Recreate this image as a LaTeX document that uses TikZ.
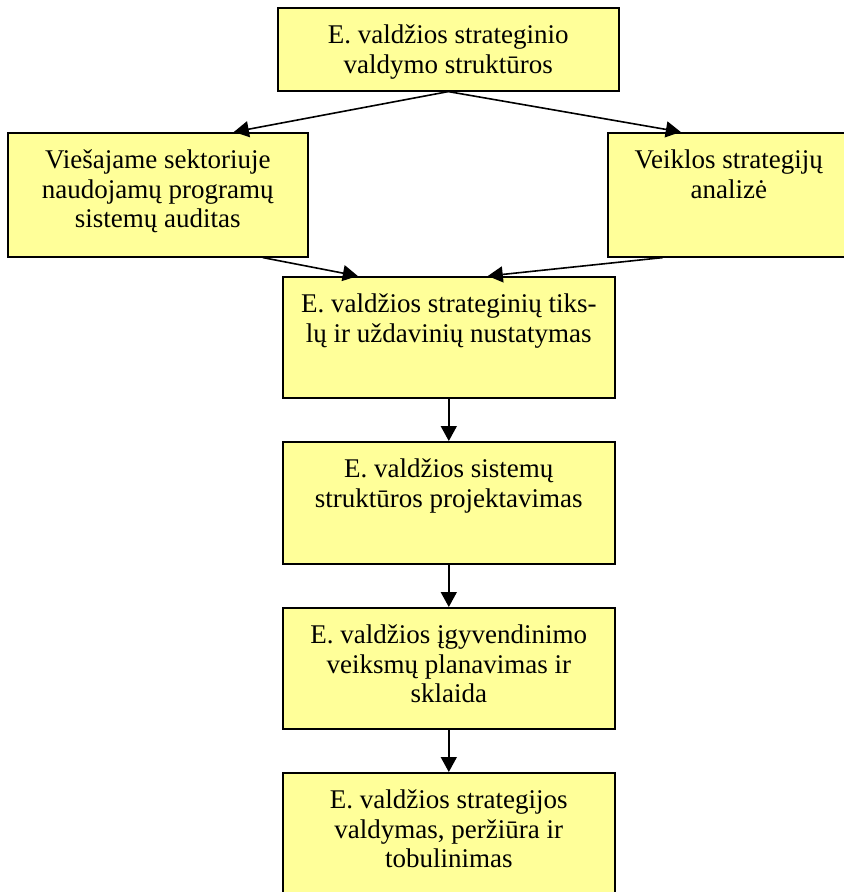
\documentclass[tikz,border=0pt]{standalone}
\usepackage{fontspec}
\setmainfont{Liberation Serif}
\usetikzlibrary{arrows.meta,calc}
\definecolor{boxyellow}{RGB}{255,255,153}

\begin{document}
\begin{tikzpicture}[
  x=0.5pt, y=-0.5pt, font=\fontsize{13.5}{14.8}\selectfont,
  box/.style ={draw,rectangle,fill=boxyellow,line width=0.8pt,inner sep=0,anchor=north west},
  wide/.style={box,minimum width=166pt,minimum height=60.5pt},
  txt/.style ={anchor=north,align=center,inner sep=0,yshift=-8.8pt},
  ln/.style  ={draw,-{Triangle[length=7.5pt,width=8pt]},line width=0.8pt},
]
\useasboundingbox (0,0) rectangle (843,892);

% ----------------------------------------------------------- top row
\node[box,minimum width=170.5pt,minimum height=41.5pt] (top) at (277,7) {};
\node[txt] (top-t) at (top.north) {E. valdžios strateginio\\valdymo struktūros};

\node[box,minimum width=150pt,minimum height=62pt] (audit) at (7,132) {};
\node[txt] (audit-t) at (audit.north)
  {Viešajame sektoriuje\\naudojamų programų\\sistemų auditas};
\node[box,minimum width=121pt,minimum height=62pt] (anal) at (607,132) {};
\node[txt] (anal-t) at (anal.north) {Veiklos strategijų\\analizė};

% ----------------------------------------------------------- the chain
\node[wide] (goals) at (282,276) {};
\node[txt] (goals-t) at (goals.north)
  {E. valdžios strateginių tiks-\\lų ir uždavinių nustatymas};
\node[wide,minimum height=61pt] (sys) at (282,441) {};
\node[txt] (sys-t) at (sys.north) {E. valdžios sistemų\\struktūros projektavimas};
\node[wide] (plan) at (282,607) {};
\node[txt] (plan-t) at (plan.north)
  {E. valdžios įgyvendinimo\\veiksmų planavimas ir\\sklaida};
\node[wide] (manage) at (282,772) {};
\node[txt] (manage-t) at (manage.north)
  {E. valdžios strategijos\\valdymas, peržiūra ir\\tobulinimas};

% ----------------------------------------------------------- connectors
\draw[ln] (top.south) -- ($(audit.north)+(76,0)$);
\draw[ln] (top.south) -- ($(anal.north)+(-48,0)$);
\draw[ln] ($(audit.south)+(105,0)$) -- ($(goals.north)+(-91,0)$);
\draw[ln] ($(anal.south)+(-66,0)$)  -- ($(goals.north)+(39,0)$);
\draw[ln] (goals.south) -- (sys.north);
\draw[ln] (sys.south)   -- (plan.north);
\draw[ln] (plan.south)  -- (manage.north);

\end{tikzpicture}
\end{document}
